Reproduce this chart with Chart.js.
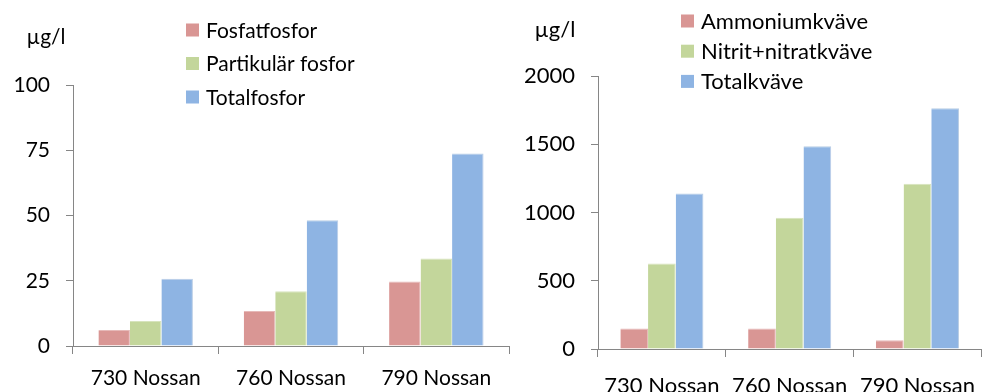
<!DOCTYPE html>
<html>
<head>
<meta charset="utf-8">
<script src="https://cdn.jsdelivr.net/npm/chart.js@4/dist/chart.umd.min.js"></script>
<style>
  html, body { margin: 0; padding: 0; background: #fff; }
  body { width: 991px; height: 392px; position: relative; overflow: hidden; }
  .panel { position: absolute; top: 0; height: 392px; }
  #phos { left: 0; width: 512px; }
  #nitro { left: 500px; width: 491px; }
</style>
</head>
<body>
<div class="panel" id="phos"><canvas id="cPhos"></canvas></div>
<div class="panel" id="nitro"><canvas id="cNitro"></canvas></div>
<script>
// Sampling stations
const categories = ['730 Nossan', '760 Nossan', '790 Nossan'];

// Phosphorus, µg/l
const fosfatfosfor = [6.1, 13.4, 24.7];
const partikularFosfor = [9.6, 21.0, 33.5];
const totalfosfor = [25.8, 48.2, 73.8];
const phosphorusTicks = [0, 25, 50, 75, 100];

// Nitrogen, µg/l
const ammoniumkvave = [150, 150, 64];
const nitritNitratkvave = [626, 961, 1210];
const totalkvave = [1140, 1485, 1763];
const nitrogenTicks = [0, 500, 1000, 1500, 2000];

const unitLabel = 'µg/l';

const RED = '#D99694', GREEN = '#C3D69B', BLUE = '#8EB4E3';
const RED_EDGE = '#E6B9B8', GREEN_EDGE = '#D7E4BD', BLUE_EDGE = '#B9CDE5';
const AXIS = '#868686';
const FONT = 'Lato, "Open Sans", sans-serif';

// Legend drawn as a stacked list inside the panel, plus the unit caption
const panelDecor = {
  id: 'panelDecor',
  afterDraw(chart, args, o) {
    const ctx = chart.ctx;
    ctx.save();
    ctx.textBaseline = 'middle';
    ctx.fillStyle = '#000';
    ctx.font = o.fontSize + 'px ' + FONT;
    ctx.textAlign = 'center';
    ctx.fillText(o.unit, o.unitX, o.unitY);
    ctx.textAlign = 'left';
    chart.data.datasets.forEach((ds, i) => {
      const y = o.legendY + i * o.legendGap;
      ctx.fillStyle = ds.backgroundColor;
      ctx.fillRect(o.legendX, y - 6.5, 13, 13);
      ctx.fillStyle = '#000';
      ctx.fillText(ds.label, o.legendX + 20, y + 1);
    });
    ctx.restore();
  }
};

function makeChart(id, sets, ticks, max, geo) {
  return new Chart(document.getElementById(id), {
    type: 'bar',
    data: {
      labels: categories,
      datasets: sets.map(s => ({
        label: s.label,
        data: s.data,
        backgroundColor: s.color,
        borderColor: s.edge,
        borderWidth: { top: 1, left: 0, right: 1, bottom: 0 },
        categoryPercentage: 0.65,
        barPercentage: 1.0
      }))
    },
    options: {
      responsive: true,
      maintainAspectRatio: false,
      animation: false,
      layout: { padding: { top: geo.top, right: geo.right, left: 0, bottom: 0 } },
      plugins: {
        legend: { display: false },
        tooltip: { enabled: false },
        panelDecor: geo.decor
      },
      scales: {
        x: {
          type: 'category',
          afterFit: s => { s.height = geo.xHeight; },
          grid: {
            offset: true,
            drawOnChartArea: false,
            drawTicks: true,
            tickLength: 8,
            color: AXIS,
            lineWidth: 1
          },
          border: { display: true, color: AXIS, width: 1 },
          ticks: {
            color: '#000',
            font: { family: FONT, size: geo.fontSize },
            padding: geo.xPad,
            maxRotation: 0,
            autoSkip: false
          }
        },
        y: {
          min: 0,
          max: max,
          afterFit: s => { s.width = geo.yWidth; },
          afterBuildTicks: s => { s.ticks = ticks.map(v => ({ value: v })); },
          grid: {
            drawOnChartArea: false,
            drawTicks: true,
            tickLength: 7,
            color: AXIS,
            lineWidth: 1
          },
          border: { display: true, color: AXIS, width: 1 },
          ticks: {
            color: '#000',
            font: { family: FONT, size: geo.fontSize },
            padding: geo.yPad,
            callback: v => String(v)
          }
        }
      }
    },
    plugins: [panelDecor]
  });
}

makeChart('cPhos', [
  { label: 'Fosfatfosfor', data: fosfatfosfor, color: RED, edge: RED_EDGE },
  { label: 'Partikulär fosfor', data: partikularFosfor, color: GREEN, edge: GREEN_EDGE },
  { label: 'Totalfosfor', data: totalfosfor, color: BLUE, edge: BLUE_EDGE }
], phosphorusTicks, 100, {
  top: 85, right: 3, xHeight: 46, yWidth: 73, fontSize: 21, xPad: 12, yPad: 16,
  decor: { unit: unitLabel, unitX: 46, unitY: 37, fontSize: 21,
           legendX: 186, legendY: 30, legendGap: 33.5 }
});

makeChart('cNitro', [
  { label: 'Ammoniumkväve', data: ammoniumkvave, color: RED, edge: RED_EDGE },
  { label: 'Nitrit+nitratkväve', data: nitritNitratkvave, color: GREEN, edge: GREEN_EDGE },
  { label: 'Totalkväve', data: totalkvave, color: BLUE, edge: BLUE_EDGE }
], nitrogenTicks, 2000, {
  top: 76, right: 0, xHeight: 43, yWidth: 98, fontSize: 22, xPad: 16, yPad: 16,
  decor: { unit: unitLabel, unitX: 55, unitY: 30, fontSize: 22,
           legendX: 181, legendY: 21, legendGap: 30.2 }
});
</script>
</body>
</html>
